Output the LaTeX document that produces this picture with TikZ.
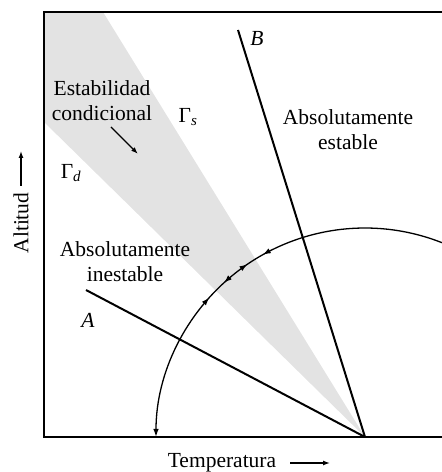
\documentclass[tikz,border=0pt]{standalone}
\usepackage{fontspec}
\setmainfont{Liberation Serif}
\usetikzlibrary{arrows.meta,decorations.markings,calc}
\begin{document}
\begin{tikzpicture}[x=1pt,y=1pt,
  lbl/.style={font=\fontsize{21.5}{25}\selectfont, align=center, inner sep=0pt},
  thick line/.style={line width=2pt},
  tip/.style={-{Latex[length=7pt,width=5pt]}}]
\useasboundingbox (0,0) rectangle (442,472);
\clip (0,0) rectangle (442,472);
\coordinate (P) at (365,35);
\coordinate (Wd) at (44,350);
\coordinate (TL) at (44,460);
\coordinate (Ws) at (103,460);
% wedge
\fill[black!11] (P) -- (Wd) -- (TL) -- (Ws) -- cycle;
% frame
\draw[line width=1.8pt] (442,460) -- (TL) -- (44,35) -- (442,35);
% lines
\coordinate (Bend) at (238,442);
\coordinate (Aend) at (86,182);
\draw[thick line] (Bend) -- (P);
\draw[thick line] (Aend) -- (P);
% arc
\draw[line width=1.3pt,
  decoration={markings,
    mark=at position 0.456 with {\arrow{Latex[length=8pt,width=5.5pt]}},
    mark=at position 0.50 with {\arrowreversed{Latex[length=8pt,width=5.5pt]}},
    mark=at position 0.574 with {\arrow{Latex[length=8pt,width=5.5pt]}},
    mark=at position 0.625 with {\arrowreversed{Latex[length=8pt,width=5.5pt]}}},
  postaction={decorate}, -{Latex[length=8pt,width=5.5pt]}]
  ($(P)+(68.4:209)$) arc[start angle=68.4, end angle=180, radius=209];
% labels
\node[lbl] (ec) at (102,371) {Estabilidad\\condicional};
\node[lbl] (ae) at (348,342) {Absolutamente\\estable};
\node[lbl] (ai) at (125,210) {Absolutamente\\inestable};
\node[lbl] (gs) at (188,355) {Γ\textsubscript{\textit{s}}};
\node[lbl] (gd) at (71,299) {Γ\textsubscript{\textit{d}}};
\node[lbl] (lb) at (257,434) {\textit{B}};
\node[lbl] (la) at (88,152) {\textit{A}};
\coordinate (c1) at (111,345);
\coordinate (c2) at (138,318);
\draw[line width=1.3pt, tip] (c1) -- (c2);
\node[lbl, rotate=90] (alt) at (21,249) {Altitud};
\coordinate (a1) at (21,286);
\coordinate (a2) at (21,321);
\draw[line width=1.3pt, tip] (a1) -- (a2);
\node[lbl] (tem) at (222,9) {Temperatura};
\coordinate (t1) at (290,9);
\coordinate (t2) at (330,9);
\draw[line width=1.3pt, tip] (t1) -- (t2);
\end{tikzpicture}
\end{document}
